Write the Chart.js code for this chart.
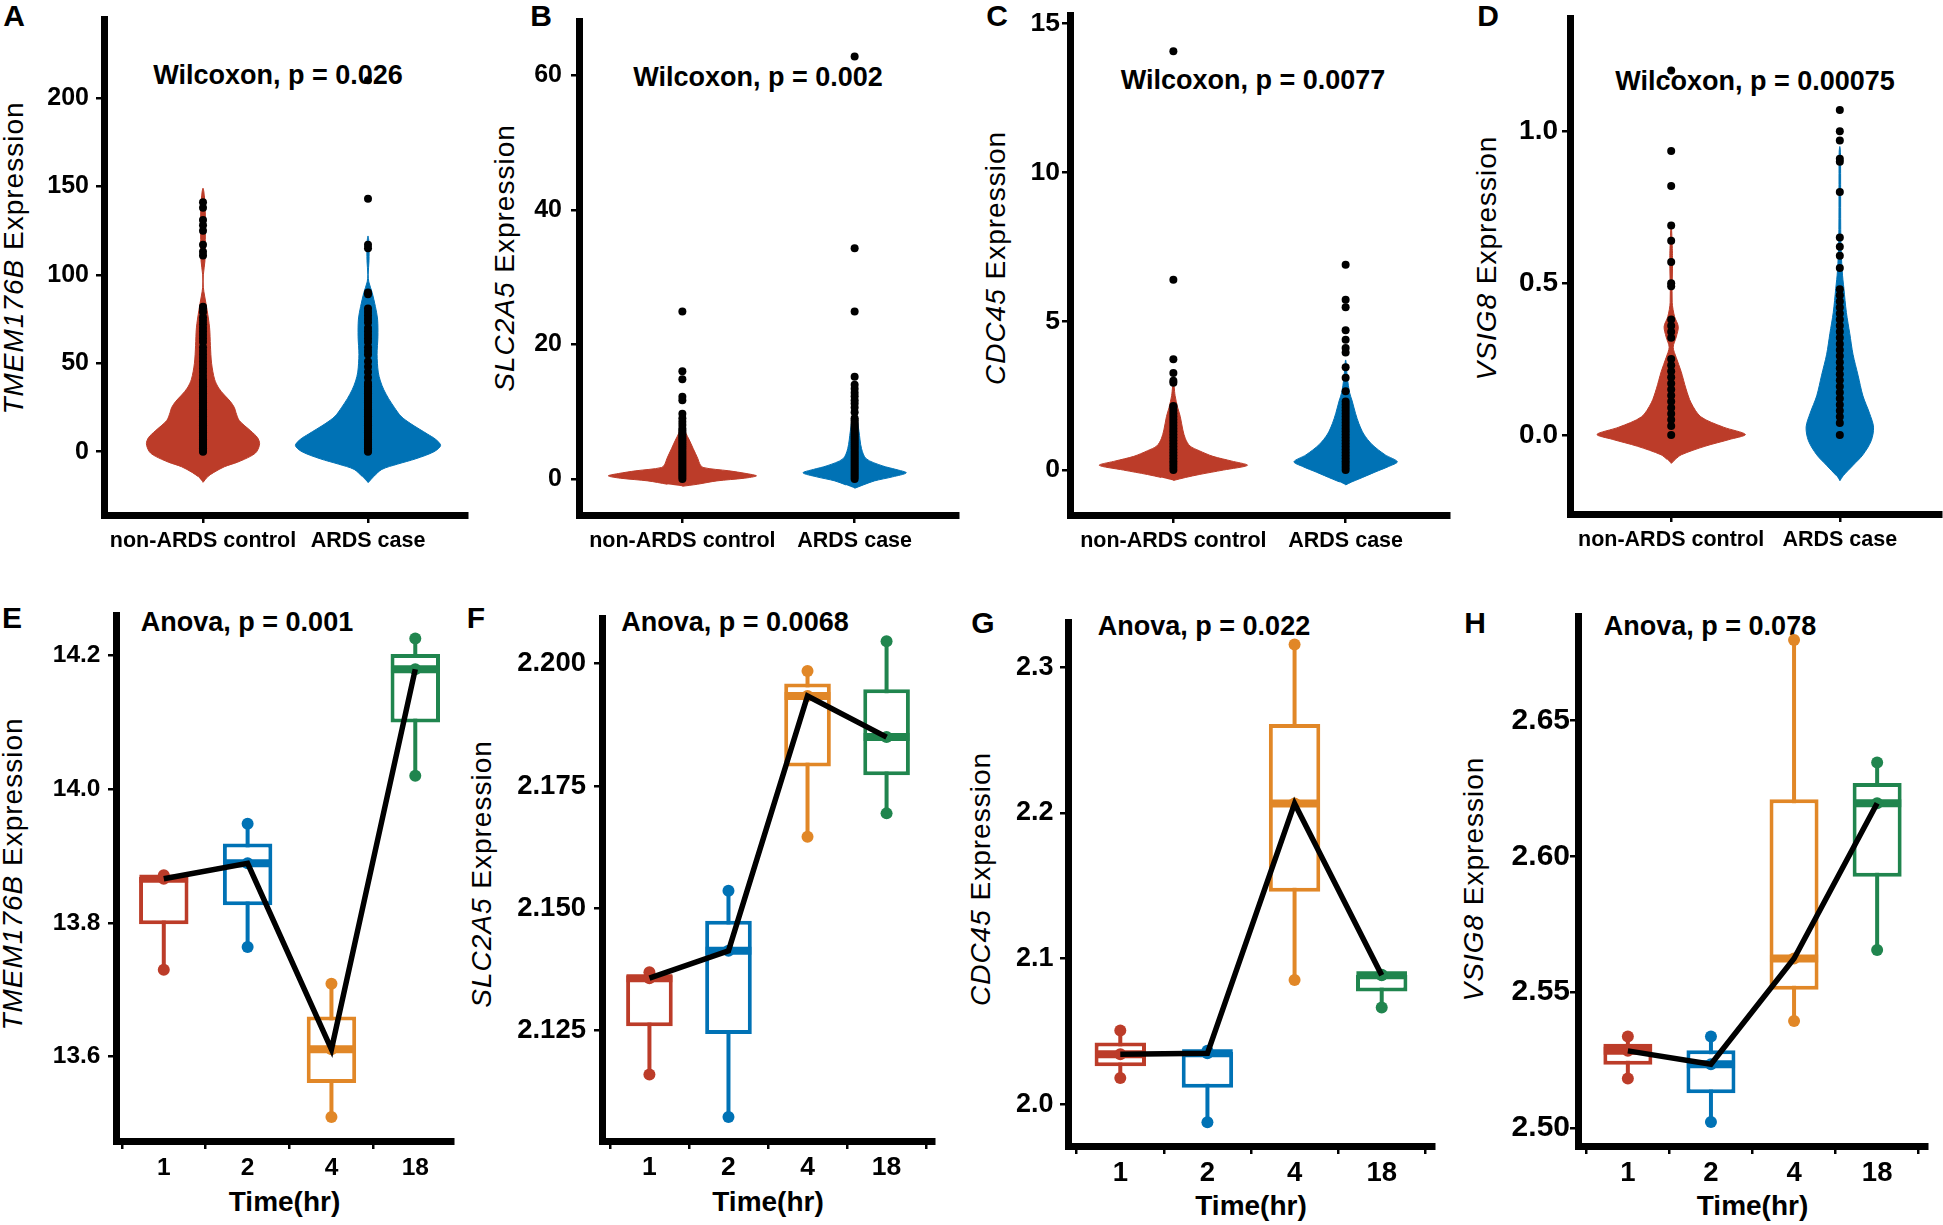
<!DOCTYPE html>
<html>
<head>
<meta charset="utf-8">
<title>ARDS gene expression panels</title>
<script src="https://cdn.jsdelivr.net/npm/chart.js@4.4.1/dist/chart.umd.min.js"></script>
<style>
    html, body { margin: 0; padding: 0; background: #fff; }
    body { width: 1943px; height: 1225px; position: relative; overflow: hidden;
           font-family: 'Liberation Sans', Arial, Helvetica, sans-serif; color: #000; }
    .lbl { position: absolute; white-space: nowrap; line-height: 1; transform: translate(-50%, -50%); }
    .letter { font-size: 30px; font-weight: bold; }
    .note { font-size: 27px; font-weight: bold; }
    .ytitle { font-size: 28px; letter-spacing: 1px; transform: translate(-50%, -50%) rotate(-90deg); }
    .xtitle { font-size: 28px; font-weight: bold; }
    canvas { position: absolute; }
</style>
</head>
<body>
<script>
/** --------------------DATA-------------------- */

const groupLabels = ['non-ARDS control', 'ARDS case'];
const timeLabels = ['1', '2', '4', '18'];

const tmemTicks = [0, 50, 100, 150, 200];
const slcTicks = [0, 20, 40, 60];
const cdcTicks = [0, 5, 10, 15];
const vsigTicks = [0, 0.5, 1.0];
const tmemTimeTicks = [13.6, 13.8, 14.0, 14.2];
const slcTimeTicks = [2.125, 2.150, 2.175, 2.200];
const cdcTimeTicks = [2.0, 2.1, 2.2, 2.3];
const vsigTimeTicks = [2.50, 2.55, 2.60, 2.65];

/** violin outlines: [expression, half width in group units] */
const tmemControlShape = [[-17.4, 0], [-14, 0.03], [-11.7, 0.066], [-8.5, 0.13], [-5.9, 0.21], [-2.5, 0.29], [0, 0.325],
    [4.5, 0.343], [8, 0.33], [11.7, 0.29], [17.6, 0.22], [22, 0.2], [25, 0.19], [28.5, 0.165], [32, 0.13], [36, 0.095],
    [41, 0.07], [50, 0.052], [60, 0.045], [70, 0.04], [80, 0.025], [88, 0.01], [93, 0.002], [100, 0.002], [108, 0.012],
    [120, 0.014], [135, 0.014], [145, 0.008], [149, 0]];
const tmemCaseShape = [[-17.6, 0], [-14, 0.035], [-10, 0.084], [-7, 0.18], [-4, 0.29], [0, 0.4], [3.5, 0.44], [7, 0.41],
    [10, 0.36], [15.8, 0.26], [20, 0.2], [25, 0.16], [30, 0.125], [35, 0.096], [40, 0.075], [45, 0.062], [55, 0.055],
    [65, 0.06], [75, 0.058], [82, 0.045], [90, 0.025], [96, 0.005], [100, 0.001], [108, 0.006], [118, 0.006], [122, 0]];
const slcControlShape = [[-1.1, 0], [-0.8, 0.087], [-0.3, 0.2], [0.1, 0.36], [0.45, 0.43], [0.8, 0.37], [1.2, 0.27],
    [1.7, 0.12], [2.3, 0.1], [3, 0.09], [4.5, 0.063], [6.1, 0.034], [7.5, 0]];
const slcCaseShape = [[-1.4, 0], [-0.9, 0.05], [-0.3, 0.115], [0.3, 0.22], [0.9, 0.3], [1.4, 0.24], [1.95, 0.16],
    [3, 0.067], [4.5, 0.04], [7.1, 0.025], [9.7, 0.01], [10.6, 0]];
const cdcControlShape = [[-0.35, 0], [-0.25, 0.07], [-0.15, 0.15], [0, 0.29], [0.16, 0.43], [0.3, 0.34], [0.46, 0.23],
    [0.65, 0.15], [0.81, 0.096], [1.05, 0.07], [1.35, 0.055], [1.8, 0.04], [2.1, 0.025], [2.5, 0.01], [3.0, 0]];
const cdcCaseShape = [[-0.5, 0], [-0.4, 0.035], [-0.3, 0.077], [-0.07, 0.17], [0.12, 0.25], [0.28, 0.3], [0.51, 0.23],
    [0.86, 0.153], [1.21, 0.105], [1.56, 0.077], [1.91, 0.057], [2.32, 0.038], [2.6, 0.023], [3.1, 0.01], [3.7, 0]];
const vsigControlShape = [[-0.094, 0], [-0.08, 0.025], [-0.065, 0.06], [-0.037, 0.2], [-0.014, 0.35], [0.002, 0.44],
    [0.026, 0.31], [0.06, 0.176], [0.106, 0.118], [0.152, 0.088], [0.209, 0.059], [0.255, 0.03], [0.289, 0.012],
    [0.323, 0.03], [0.357, 0.042], [0.39, 0.02], [0.437, 0.006], [0.585, 0.008], [0.69, 0]];
const vsigCaseShape = [[-0.151, 0], [-0.134, 0.02], [-0.1, 0.078], [-0.065, 0.137], [-0.019, 0.186], [0.026, 0.2],
    [0.072, 0.176], [0.129, 0.137], [0.197, 0.108], [0.266, 0.078], [0.334, 0.059], [0.403, 0.039], [0.483, 0.024],
    [0.54, 0.014], [0.643, 0.006], [0.93, 0.004], [0.95, 0]];

/** individual samples, plotted on the group centre */
const tmemControlPts = [0, 0.5, 1, 1.5, 2, 3, 4, 5, 6, 7, 8, 9, 10, 11, 12, 13, 14, 15, 16, 17, 18, 19, 20, 21, 22, 23,
    24, 25, 26, 27, 28, 29, 30, 31, 32, 33, 34, 35, 36, 37, 38, 39, 40, 41, 43, 45, 47, 49, 51, 53, 55, 57, 59, 62, 64,
    66, 68, 70, 72, 74, 76, 79, 81, 82, 111, 113, 117, 125, 128, 131, 138, 141];
const tmemCasePts = [0, 0.5, 1, 1.5, 2, 3, 4, 5, 6, 7, 8, 9, 10, 11, 12, 13, 14, 15, 16, 17, 18, 19, 20, 21, 22, 23, 24,
    25, 26, 27, 28, 29, 30, 31, 32, 33, 34, 35, 36, 37, 38, 39, 42, 45, 48, 51, 55, 57, 59, 62, 64, 66, 68, 70, 73, 75,
    77, 79, 81, 89, 90, 115, 117, 143, 210];
const slcControlPts = [0, 0.3, 0.6, 0.9, 1.2, 1.5, 1.8, 2.1, 2.4, 2.7, 3.0, 3.3, 3.6, 3.9, 4.2, 4.5, 4.8, 5.1, 5.4, 5.7,
    6.0, 6.3, 6.6, 6.9, 7.2, 7.5, 8.0, 8.5, 9.0, 9.7, 11.7, 12.2, 14.8, 16.0, 24.9];
const slcCasePts = [0, 0.3, 0.6, 0.9, 1.2, 1.5, 1.8, 2.1, 2.4, 2.7, 3.0, 3.3, 3.6, 3.9, 4.2, 4.5, 4.8, 5.1, 5.4, 5.7, 6.0,
    6.3, 6.6, 6.9, 7.2, 7.5, 7.8, 8.1, 8.4, 8.7, 9.0, 9.9, 10.6, 11.2, 11.7, 12.3, 12.8, 13.4, 14.0, 15.2, 24.9, 34.3, 62.8];
const cdcControlPts = [0, 0.1, 0.2, 0.3, 0.4, 0.5, 0.6, 0.7, 0.8, 0.9, 1.0, 1.1, 1.2, 1.3, 1.4, 1.5, 1.6, 1.7, 1.8, 1.9,
    2.0, 2.1, 2.15, 2.93, 3.0, 3.26, 3.72, 6.39, 14.07];
const cdcCasePts = [0, 0.1, 0.2, 0.3, 0.4, 0.5, 0.6, 0.7, 0.8, 0.9, 1.0, 1.1, 1.2, 1.3, 1.4, 1.5, 1.6, 1.7, 1.8, 1.9, 2.0,
    2.1, 2.2, 2.3, 2.65, 3.1, 3.45, 3.95, 4.1, 4.38, 4.7, 5.47, 5.72, 6.9];
const vsigControlPts = [0, 0.03, 0.05, 0.07, 0.09, 0.11, 0.13, 0.15, 0.17, 0.19, 0.21, 0.23, 0.25, 0.32, 0.34, 0.36,
    0.38, 0.49, 0.5, 0.57, 0.64, 0.69, 0.82, 0.935, 1.2];
const vsigCasePts = [0, 0.04, 0.06, 0.08, 0.10, 0.12, 0.14, 0.16, 0.18, 0.20, 0.22, 0.24, 0.26, 0.28, 0.30, 0.32, 0.34,
    0.36, 0.38, 0.40, 0.42, 0.44, 0.46, 0.48, 0.55, 0.59, 0.62, 0.65, 0.80, 0.90, 0.91, 0.97, 1.0, 1.07];

/** time course: three replicates per time point (1, 2, 4, 18 hr) */
const tmemTime = [[13.730, 13.866, 13.871], [13.764, 13.889, 13.948], [13.510, 13.611, 13.709], [14.020, 14.179, 14.225]];
const slcTime = [[2.1160, 2.1357, 2.1369], [2.1073, 2.1413, 2.1536], [2.1646, 2.1934, 2.1985], [2.1694, 2.1850, 2.2046]];
const cdcTime = [[2.0180, 2.0343, 2.0507], [1.9877, 2.0350, 2.0368], [2.0853, 2.2065, 2.3155], [2.0665, 2.0885, 2.0890]];
const vsigTime = [[2.5182, 2.5284, 2.5337], [2.5022, 2.5235, 2.5337], [2.5394, 2.5624, 2.6796], [2.5655, 2.6195, 2.6345]];

const groupColors = ['#BC3C29', '#0072B5'];
const timeColors = ['#BC3C29', '#0072B5', '#E18727', '#20854E'];

/** --------------------PANEL LAYOUT-------------------- */

const Y_AXIS_W = 100;
const X_AXIS_H = 60;
const AXIS_W = 7;
const TICK_LEN = 8;

const violinPanels = [
    {letter: 'A', letterPos: [14, 16], gene: 'TMEM176B', note: 'Wilcoxon, p = 0.026', notePos: [278, 75], titlePos: [14, 258],
        area: [104, 3, 467, 515], yRange: [-35.8, 244.4], yTicks: tmemTicks, digits: 0, yFont: 25, yPad: 7,
        shapes: [tmemControlShape, tmemCaseShape], points: [tmemControlPts, tmemCasePts]},
    {letter: 'B', letterPos: [541, 16], gene: 'SLC2A5', note: 'Wilcoxon, p = 0.002', notePos: [758, 77], titlePos: [505, 258],
        area: [579, 3, 958, 515], yRange: [-5.37, 68.0], yTicks: slcTicks, digits: 0, yFont: 25, yPad: 9,
        shapes: [slcControlShape, slcCaseShape], points: [slcControlPts, slcCasePts]},
    {letter: 'C', letterPos: [997, 16], gene: 'CDC45', note: 'Wilcoxon, p = 0.0077', notePos: [1253, 80], titlePos: [996, 258],
        area: [1070, 3, 1449, 515], yRange: [-1.51, 15.28], yTicks: cdcTicks, digits: 0, yFont: 26.5, yPad: 2,
        shapes: [cdcControlShape, cdcCaseShape], points: [cdcControlPts, cdcCasePts]},
    {letter: 'D', letterPos: [1488, 16], gene: 'VSIG8', note: 'Wilcoxon, p = 0.00075', notePos: [1755, 81], titlePos: [1487, 258],
        area: [1570, 3, 1941, 514], yRange: [-0.26, 1.373], yTicks: vsigTicks, digits: 1, yFont: 28, yPad: 4,
        shapes: [vsigControlShape, vsigCaseShape], points: [vsigControlPts, vsigCasePts]}
];

const timePanels = [
    {letter: 'E', letterPos: [12, 618], gene: 'TMEM176B', note: 'Anova, p = 0.001', notePos: [247, 622], titlePos: [13, 874],
        area: [116, 606, 453, 1141], xRange: [0.43, 4.45], yRange: [13.474, 14.259], yTicks: tmemTimeTicks, digits: 1,
        yFont: 24.5, yPad: 7.5, xFont: 24.5, xPad: 7, titleY: 1202, reps: tmemTime},
    {letter: 'F', letterPos: [476, 618], gene: 'SLC2A5', note: 'Anova, p = 0.0068', notePos: [735, 622], titlePos: [482, 874],
        area: [602, 607, 934, 1141], xRange: [0.4, 4.6], yRange: [2.1024, 2.2092], yTicks: slcTimeTicks, digits: 3,
        yFont: 27.5, yPad: 8, xFont: 26.5, xPad: 5.5, titleY: 1202, reps: slcTime},
    {letter: 'G', letterPos: [983, 623], gene: 'CDC45', note: 'Anova, p = 0.022', notePos: [1204, 626], titlePos: [981, 879],
        area: [1068, 612, 1434, 1146], xRange: [0.4, 4.6], yRange: [1.9714, 2.331], yTicks: cdcTimeTicks, digits: 1,
        yFont: 27, yPad: 6.5, xFont: 27.5, xPad: 6, titleY: 1206, reps: cdcTime},
    {letter: 'H', letterPos: [1475, 623], gene: 'VSIG8', note: 'Anova, p = 0.078', notePos: [1710, 626], titlePos: [1474, 879],
        area: [1578, 611, 1927, 1146], xRange: [0.4, 4.6], yRange: [2.4934, 2.6884], yTicks: vsigTimeTicks, digits: 2,
        yFont: 30, yPad: 0, xFont: 27.5, xPad: 6, titleY: 1206, reps: vsigTime}
];

Chart.defaults.font.family = "'Liberation Sans', Arial, Helvetica, sans-serif";
Chart.defaults.color = '#000';

/** --------------------HELPERS-------------------- */

function addText(cls, html, pos) {
    let div = document.createElement('div');
    div.className = 'lbl ' + cls;
    div.innerHTML = html;
    div.style.left = pos[0] + 'px';
    div.style.top = pos[1] + 'px';
    document.body.appendChild(div);
}

function addCanvas(area, padTop, padRight) {
    let canvas = document.createElement('canvas');
    canvas.width = Y_AXIS_W + (area[2] - area[0]) + padRight;
    canvas.height = padTop + (area[3] - area[1]) + X_AXIS_H;
    canvas.style.left = (area[0] - Y_AXIS_W) + 'px';
    canvas.style.top = (area[1] - padTop) + 'px';
    document.body.appendChild(canvas);
    return canvas;
}

function axisLine() {
    return {display: true, color: '#000', width: AXIS_W};
}

function tickMarks() {
    return {display: true, drawOnChartArea: false, drawTicks: true, tickLength: TICK_LEN, lineWidth: 2.5, color: '#000'};
}

function buildScales(p, xRange, xTicks, xLabels, xFont, xPad) {
    return {
        x: {
            type: 'linear', min: xRange[0], max: xRange[1], offset: false,
            border: axisLine(), grid: tickMarks(),
            afterBuildTicks: scale => { scale.ticks = xTicks.map(v => ({value: v})); },
            afterFit: scale => { scale.height = X_AXIS_H; },
            ticks: {
                autoSkip: false, maxRotation: 0, minRotation: 0, padding: xPad,
                font: {size: xFont, weight: 'bold', lineHeight: 1},
                callback: (v, i) => xLabels[i]
            }
        },
        y: {
            type: 'linear', min: p.yRange[0], max: p.yRange[1],
            border: axisLine(), grid: tickMarks(),
            afterBuildTicks: scale => { scale.ticks = p.yTicks.map(v => ({value: v})); },
            afterFit: scale => { scale.width = Y_AXIS_W; },
            ticks: {
                autoSkip: false, padding: p.yPad,
                font: {size: p.yFont, weight: 'bold', lineHeight: 1},
                callback: v => Number(v).toFixed(p.digits)
            }
        }
    };
}

function baseOptions(padTop, padRight, scales) {
    return {
        responsive: false,
        animation: false,
        events: [],
        layout: {autoPadding: false, padding: {top: padTop, right: padRight, left: 0, bottom: 0}},
        plugins: {legend: {display: false}, tooltip: {enabled: false}},
        scales: scales
    };
}

/** closed outline: right edge going up, mirrored left edge coming down */
function violinOutline(shape, centre) {
    let right = shape.map(([y, w]) => ({x: centre + w, y: y}));
    let left = shape.slice(1, -1).reverse().map(([y, w]) => ({x: centre - w, y: y}));
    return right.concat(left);
}

function quantile(values, q) {
    let sorted = values.slice().sort((a, b) => a - b);
    let pos = (sorted.length - 1) * q;
    let lo = Math.floor(pos);
    let hi = Math.ceil(pos);
    return sorted[lo] + (sorted[hi] - sorted[lo]) * (pos - lo);
}

/** --------------------TEXT (sits under the data, as in the figure)-------------------- */

violinPanels.concat(timePanels).forEach(p => {
    addText('letter', p.letter, p.letterPos);
    addText('note', p.note, p.notePos);
    addText('ytitle', `<i>${p.gene}</i> Expression`, p.titlePos);
    if (p.reps) {
        addText('xtitle', 'Time(hr)', [(p.area[0] + p.area[2]) / 2, p.titleY]);
    }
});

/** --------------------VIOLIN PANELS-------------------- */

violinPanels.forEach(p => {
    let canvas = addCanvas(p.area, 3, 6);
    let datasets = [];

    p.points.forEach((pts, g) => {
        datasets.push({
            type: 'scatter',
            data: pts.map(v => ({x: g + 1, y: v})),
            pointRadius: 4,
            pointBackgroundColor: '#000',
            pointBorderWidth: 0,
            order: 0
        });
    });

    p.shapes.forEach((shape, g) => {
        datasets.push({
            type: 'line',
            data: violinOutline(shape, g + 1),
            fill: 'shape',
            backgroundColor: groupColors[g],
            borderColor: groupColors[g],
            borderWidth: 1,
            pointRadius: 0,
            tension: 0.3,
            order: 1
        });
    });

    new Chart(canvas.getContext('2d'), {
        type: 'scatter',
        data: {datasets: datasets},
        options: baseOptions(3, 6, buildScales(p, [0.4, 2.6], [1, 2], groupLabels, 21.5, 7.5))
    });
});

/** --------------------TIME COURSE PANELS-------------------- */

timePanels.forEach(p => {
    let canvas = addCanvas(p.area, 10, 6);
    let xs = p.reps.map((r, i) => i + 1);
    let medians = p.reps.map(r => quantile(r, 0.5));
    let lower = p.reps.map(r => quantile(r, 0.25));
    let upper = p.reps.map(r => quantile(r, 0.75));
    let datasets = [];

    // line through the medians, on top of everything
    datasets.push({
        type: 'line',
        data: xs.map((x, i) => ({x: x, y: medians[i]})),
        borderColor: '#000',
        borderWidth: 5.5,
        pointRadius: 0,
        fill: false,
        tension: 0,
        order: 0
    });

    datasets.push({
        type: 'scatter',
        data: p.reps.flatMap((r, i) => r.map(v => ({x: xs[i], y: v}))),
        pointRadius: 6,
        pointBorderWidth: 0,
        pointBackgroundColor: p.reps.flatMap((r, i) => r.map(() => timeColors[i])),
        order: 1
    });

    xs.forEach((x, i) => {
        datasets.push({
            type: 'line',
            data: [{x: x - 0.29, y: medians[i]}, {x: x + 0.29, y: medians[i]}],
            borderColor: timeColors[i],
            borderWidth: 8,
            pointRadius: 0,
            fill: false,
            order: 2
        });
    });

    datasets.push({
        type: 'bar',
        data: xs.map((x, i) => ({x: x, y: [lower[i], upper[i]]})),
        backgroundColor: '#fff',
        borderColor: timeColors,
        borderWidth: 4,
        borderSkipped: false,
        barPercentage: 0.59,
        categoryPercentage: 1,
        order: 3
    });

    xs.forEach((x, i) => {
        datasets.push({
            type: 'line',
            data: [{x: x, y: Math.min(...p.reps[i])}, {x: x, y: Math.max(...p.reps[i])}],
            borderColor: timeColors[i],
            borderWidth: 4,
            pointRadius: 0,
            fill: false,
            order: 4
        });
    });

    new Chart(canvas.getContext('2d'), {
        type: 'scatter',
        data: {datasets: datasets},
        options: baseOptions(10, 6, buildScales(p, p.xRange, xs, timeLabels, p.xFont, p.xPad))
    });
});
</script>
</body>
</html>
